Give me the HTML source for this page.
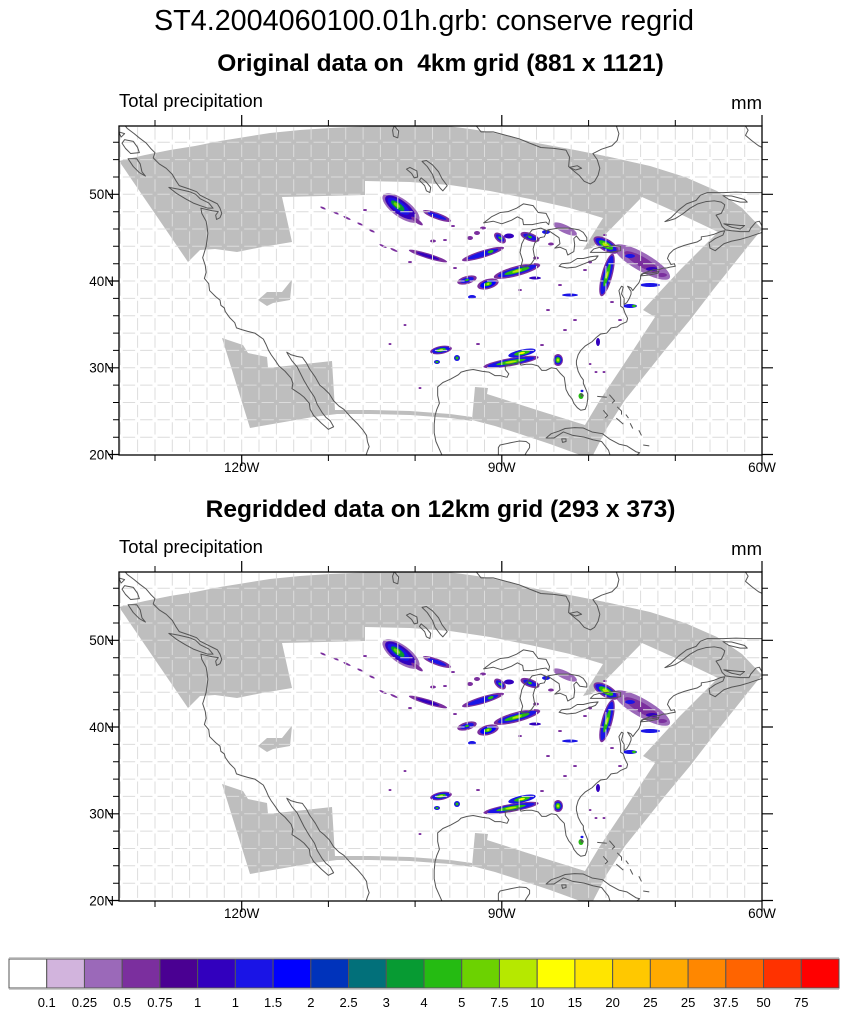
<!DOCTYPE html>
<html><head><meta charset="utf-8"><style>
html,body{margin:0;padding:0;background:#fff;}
svg{display:block;font-family:"Liberation Sans",Arial,Helvetica,sans-serif;}
.cst{fill:none;stroke:#555;stroke-width:1;vector-effect:non-scaling-stroke;stroke-linejoin:round;}
.tl{font-size:13.5px;fill:#000;}
</style></head><body>
<svg width="848" height="1016" viewBox="0 0 848 1016">
<rect width="848" height="1016" fill="#fff"/>
<defs>
<clipPath id="fc" clipPathUnits="userSpaceOnUse"><rect x="119" y="126" width="643" height="329"/></clipPath>
<g id="panel">
<g clip-path="url(#fc)">
<path fill="#BEBEBE" d="M119,161 L145,155 L170,150 L195,146 L220,141 L245,137 L270,133 L300,130 L330,128 L365,126.5 L400,125 L440,125 L470,129 L490,132 L515,138 L537,143 L575,150 L610,157 L650,166 L685,177 L717,191 L742,208 L762,229 L745,250 L713,290 L690,320 L665,350 L645,375 L625,400 L607,428 L593,455 L590,460 L583,456 L550,444 L520,434 L495,426 L472,420 L475,387 L488,388 L487,394 L540,411 L585,425 L600,400 L630,355 L655,317 L643,310 L680,270 L718,232 L680,214 L642,197 L592,248 L583,250 L603,218 L570,208 L530,199 L490,191 L450,185 L410,182 L365,181 L365,195 L282,197 L292,242 L262,247 L237,252 L215,249 L200,250 L188,262 Z"/>
<path fill="#BEBEBE" d="M222,338 L243,345 L248,353 L267,357 L268,368 L332,361 L335,410 L370,410 L410,411 L450,414 L472,417 L472,421 L450,418 L410,415 L370,414 L337,414 L313,417 L250,428 Z"/>
<path fill="#BEBEBE" d="M258,300 L267,292 L282,292 L290,282 L292,280 L290,300 L273,303 L267,306 Z"/>
<g>
<g transform="translate(401,208) rotate(36)">
<ellipse rx="22" ry="9" fill="#9B69B9"/>
<ellipse cx="-1" rx="18" ry="7" fill="#3200BE"/>
<ellipse cx="-3" rx="13" ry="5" fill="#1A14E6"/>
<ellipse cx="-4" rx="8" ry="3" fill="#079B33"/>
<ellipse cx="-5" rx="4" ry="1.6" fill="#6CD201"/>
</g>
<ellipse cx="417" cy="221" rx="7" ry="2" transform="rotate(36 417 221)" fill="#7B2F9E"/>
<g transform="translate(437,216) rotate(20)"><ellipse rx="15" ry="3.2" fill="#7B2F9E"/><ellipse rx="10" ry="1.8" fill="#1A14E6"/></g>
<g fill="#7B2F9E">
<ellipse cx="323" cy="208" rx="3" ry="1" transform="rotate(25 323 208)"/>
<ellipse cx="336" cy="213" rx="3" ry="1" transform="rotate(25 336 213)"/>
<ellipse cx="347" cy="218" rx="4" ry="1" transform="rotate(25 347 218)"/>
<ellipse cx="360" cy="224" rx="3" ry="1" transform="rotate(25 360 224)"/>
<ellipse cx="372" cy="231" rx="3" ry="1" transform="rotate(25 372 231)"/>
<ellipse cx="383" cy="246" rx="4" ry="1" transform="rotate(25 383 246)"/>
<ellipse cx="394" cy="250" rx="4" ry="1" transform="rotate(25 394 250)"/>
<ellipse cx="433" cy="241" rx="3" ry="1.5"/>
<ellipse cx="470" cy="238" rx="3" ry="2"/>
<ellipse cx="477" cy="233" rx="3" ry="2"/>
<ellipse cx="483" cy="228" rx="3" ry="1.5"/>
<ellipse cx="453" cy="226" rx="2" ry="1"/>
<ellipse cx="365" cy="210" rx="2" ry="1"/>
<ellipse cx="445" cy="240" rx="2" ry="1"/>
<ellipse cx="536" cy="258" rx="3" ry="1.5"/>
<ellipse cx="551" cy="244" rx="3" ry="1.5"/>
<ellipse cx="590" cy="262" rx="2" ry="1.5"/>
<ellipse cx="585" cy="270" rx="2" ry="1"/>
<ellipse cx="565" cy="330" rx="2" ry="1"/>
<ellipse cx="575" cy="320" rx="2" ry="1"/>
<ellipse cx="548" cy="310" rx="2" ry="1"/>
<ellipse cx="612" cy="302" rx="2" ry="1"/>
<ellipse cx="390" cy="344" rx="1.5" ry="1"/>
<ellipse cx="405" cy="325" rx="1.5" ry="1"/>
<ellipse cx="420" cy="388" rx="1.5" ry="1"/>
<ellipse cx="596" cy="372" rx="1.5" ry="1"/>
<ellipse cx="604" cy="372" rx="1.5" ry="1"/>
<ellipse cx="410" cy="262" rx="2" ry="1"/>
<ellipse cx="455" cy="268" rx="2" ry="1"/>
<ellipse cx="520" cy="290" rx="2" ry="1"/>
<ellipse cx="560" cy="285" rx="2" ry="1"/>
<ellipse cx="605" cy="235" rx="2" ry="1"/>
<ellipse cx="620" cy="320" rx="2" ry="1"/>
<ellipse cx="478" cy="344" rx="2" ry="1"/>
<ellipse cx="542" cy="345" rx="2" ry="1"/>
<ellipse cx="590" cy="364" rx="1.5" ry="1"/>
</g>
<g transform="translate(428,256) rotate(17)"><ellipse rx="20" ry="2.6" fill="#7B2F9E"/><ellipse rx="12" ry="1.5" fill="#3200BE"/></g>
<g transform="translate(483,254) rotate(-17)"><ellipse rx="22" ry="3.6" fill="#7B2F9E"/><ellipse rx="16" ry="2.5" fill="#1A14E6"/><ellipse cx="8" rx="3" ry="1.5" fill="#25BB12"/></g>
<g transform="translate(467,280) rotate(-15)"><ellipse rx="10" ry="4" fill="#7B2F9E"/><ellipse rx="7" ry="2.5" fill="#1A14E6"/><ellipse rx="2" ry="1" fill="#25BB12"/></g>
<g transform="translate(488,284) rotate(-15)"><ellipse rx="11" ry="5" fill="#7B2F9E"/><ellipse rx="8" ry="3.5" fill="#0000FF"/><ellipse rx="4" ry="2" fill="#25BB12"/><ellipse rx="1.5" ry="1" fill="#B6E800"/></g>
<g transform="translate(517,271) rotate(-15)"><ellipse rx="24" ry="5" fill="#7B2F9E"/><ellipse rx="20" ry="3.5" fill="#1A14E6"/><ellipse rx="13" ry="2" fill="#25BB12"/><ellipse rx="5" ry="1.2" fill="#B6E800"/></g>
<ellipse cx="472" cy="297" rx="4" ry="2" fill="#1A14E6"/>
<g transform="translate(500,238) rotate(40)"><ellipse rx="7" ry="4" fill="#7B2F9E"/><ellipse rx="5" ry="2.5" fill="#1A14E6"/><ellipse rx="2" ry="1" fill="#25BB12"/></g>
<ellipse cx="509" cy="236" rx="5" ry="2.5" fill="#3200BE"/>
<g transform="translate(530,237) rotate(20)"><ellipse rx="10" ry="4" fill="#7B2F9E"/><ellipse rx="7" ry="2.5" fill="#1A14E6"/><ellipse rx="2" ry="1.2" fill="#25BB12"/></g>
<ellipse cx="546" cy="232" rx="4" ry="2" fill="#1A14E6"/>
<ellipse cx="565" cy="229" rx="13" ry="4" transform="rotate(25 565 229)" fill="#9B69B9"/>
<ellipse cx="535" cy="278" rx="6" ry="1.5" fill="#3200BE"/>
<ellipse cx="570" cy="295" rx="8" ry="1.5" fill="#1A14E6"/>
<g transform="translate(642,262) rotate(30)"><ellipse rx="32" ry="9" fill="#9B69B9"/><ellipse rx="20" ry="5" fill="#7B2F9E"/></g>
<ellipse cx="630" cy="256" rx="5" ry="2" fill="#1A14E6"/>
<ellipse cx="652" cy="269" rx="6" ry="2" fill="#3200BE"/>
<ellipse cx="662" cy="275" rx="5" ry="2" fill="#7B2F9E"/>
<g transform="translate(606,245) rotate(30)"><ellipse rx="14" ry="6" fill="#7B2F9E"/><ellipse rx="12" ry="4.5" fill="#1A14E6"/><ellipse rx="8" ry="3" fill="#25BB12"/><ellipse rx="4" ry="1.8" fill="#B6E800"/></g>
<g transform="translate(607,275) rotate(105)"><ellipse rx="22" ry="5.5" fill="#7B2F9E"/><ellipse rx="20" ry="4" fill="#1A14E6"/><ellipse rx="12" ry="2" fill="#25BB12"/><ellipse rx="4" ry="1" fill="#B6E800"/></g>
<ellipse cx="650" cy="285" rx="10" ry="2" fill="#1A14E6"/>
<g transform="translate(630,306)"><ellipse rx="7" ry="2" fill="#1A14E6"/><ellipse cx="4" rx="2" ry="1.2" fill="#25BB12"/></g>
<g transform="translate(441,350) rotate(-10)"><ellipse rx="11" ry="4" fill="#7B2F9E"/><ellipse rx="9" ry="3" fill="#1A14E6"/><ellipse rx="5" ry="1.8" fill="#25BB12"/><ellipse rx="2" ry="1" fill="#B6E800"/></g>
<g transform="translate(437,362)"><ellipse rx="3" ry="2" fill="#1A14E6"/><ellipse rx="1.5" ry="1" fill="#25BB12"/></g>
<g transform="translate(457,358)"><ellipse rx="3" ry="3" fill="#1A14E6"/><ellipse rx="1.5" ry="1.5" fill="#25BB12"/></g>
<g transform="translate(511,362) rotate(-10)"><ellipse rx="28" ry="4" fill="#7B2F9E"/><ellipse rx="24" ry="3" fill="#1A14E6"/><ellipse rx="15" ry="1.8" fill="#25BB12"/><ellipse rx="6" ry="1" fill="#B6E800"/></g>
<g transform="translate(522,353) rotate(-12)"><ellipse rx="14" ry="3.5" fill="#1A14E6"/><ellipse rx="8" ry="2" fill="#25BB12"/><ellipse rx="3" ry="1" fill="#FFFF00"/></g>
<g transform="translate(558,360)"><ellipse rx="5" ry="6" fill="#7B2F9E"/><ellipse rx="4" ry="4.5" fill="#1A14E6"/><ellipse rx="2.5" ry="3" fill="#25BB12"/><ellipse rx="1.2" ry="1.5" fill="#B6E800"/></g>
<ellipse cx="598" cy="342" rx="2" ry="4" fill="#3200BE"/>
<ellipse cx="581" cy="396" rx="2.5" ry="3" fill="#25BB12"/>
<ellipse cx="582" cy="391" rx="1.5" ry="1.2" fill="#1A14E6"/>
</g>
<path fill="none" stroke="#DCDCDC" stroke-width="1" stroke-dasharray="12.35 5" d="M120.3,451.9V126M137.6,451.9V126M155,451.9V126M172.3,451.9V126M189.6,451.9V126M207,451.9V126M224.3,451.9V126M241.7,451.9V126M259,451.9V126M276.4,451.9V126M293.7,451.9V126M311.1,451.9V126M328.4,451.9V126M345.7,451.9V126M363.1,451.9V126M380.4,451.9V126M397.8,451.9V126M415.1,451.9V126M432.5,451.9V126M449.8,451.9V126M467.2,451.9V126M484.5,451.9V126M501.8,451.9V126M519.2,451.9V126M536.5,451.9V126M553.9,451.9V126M571.2,451.9V126M588.6,451.9V126M605.9,451.9V126M623.3,451.9V126M640.6,451.9V126M657.9,451.9V126M675.3,451.9V126M692.6,451.9V126M710,451.9V126M727.3,451.9V126M744.7,451.9V126"/>
<path fill="none" stroke="#DCDCDC" stroke-width="1" stroke-dasharray="12.34 5" d="M122.8,437.2H762M122.8,419.8H762M122.8,402.5H762M122.8,385.1H762M122.8,367.8H762M122.8,350.4H762M122.8,333.1H762M122.8,315.7H762M122.8,298.4H762M122.8,281H762M122.8,263.7H762M122.8,246.3H762M122.8,229H762M122.8,211.7H762M122.8,194.3H762M122.8,177H762M122.8,159.6H762M122.8,142.3H762"/>
<g transform="matrix(8.672 0 0 -8.673 1282.32 627.96)">
<polyline class="cst" points="-133.9,58.5 -133.2,57.6 -132.4,57.0 -131.8,56.5 -131.0,55.9 -130.5,55.3 -130.0,54.8 -130.2,54.2 -129.5,53.5 -128.7,53.0 -128.0,52.3 -127.6,51.6 -127.2,51.0 -126.0,50.6 -125.2,50.3 -124.8,49.9 -124.0,49.5 -123.2,49.1 -122.8,48.9 -122.5,48.4 -122.3,47.8 -122.5,47.3 -122.9,47.1 -123.0,47.6 -122.7,48.0 -123.4,48.1 -124.7,48.4 -124.6,47.8 -124.1,46.9 -124.0,46.3 -123.9,45.5 -124.0,44.7 -124.1,44.0 -124.4,43.0 -124.5,42.7 -124.2,41.8 -124.1,41.0 -124.3,40.3 -123.8,39.7 -123.7,38.9 -123.0,38.2 -122.5,37.8 -122.4,37.2 -122.0,36.9 -121.9,36.5 -121.4,35.8 -120.8,35.2 -120.6,34.6 -120.0,34.4 -119.3,34.2 -118.5,34.0 -118.2,33.8 -117.5,33.3 -117.2,32.7 -116.9,32.0 -116.6,31.5 -116.1,30.8 -115.7,30.2 -115.0,29.6 -114.3,28.8 -114.1,28.2 -114.2,27.6 -113.3,27.0 -112.8,26.6 -112.2,25.9 -112.1,25.2 -111.7,24.5 -110.8,23.6 -110.0,22.9 -109.4,23.2 -109.8,23.9 -110.3,24.3 -110.7,24.8 -111.3,25.8 -111.6,26.6 -112.2,27.5 -112.8,28.5 -113.2,29.3 -113.6,30.1 -114.2,30.8 -114.7,31.6 -114.8,31.8 -114.3,31.5 -113.6,31.3 -113.0,31.2 -112.5,30.5 -112.2,29.9 -111.5,28.9 -111.0,28.0 -110.5,27.6 -109.9,27.0 -109.4,26.2 -108.8,25.6 -108.2,25.2 -107.5,24.4 -106.6,23.5 -106.0,22.8 -105.6,22.2 -105.5,21.5 -105.3,20.9 -105.5,20.4 -105.7,19.8"/>
<polyline class="cst" points="-96.8,19.7 -97.2,20.6 -97.6,21.5 -97.8,22.5 -97.8,23.5 -97.7,24.5 -97.5,25.2 -97.2,25.9 -97.4,26.8 -97.4,27.8 -96.8,28.3 -95.9,28.7 -95.0,29.2 -94.7,29.5 -94.0,29.7 -93.3,29.8 -92.3,29.6 -91.5,29.5 -90.8,29.1 -90.2,29.1 -89.4,28.9 -89.2,29.3 -89.6,29.8 -89.6,30.2 -89.0,30.4 -88.4,30.4 -88.0,30.7 -87.8,30.3 -87.2,30.4 -86.5,30.4 -85.8,30.2 -85.4,29.7 -84.9,29.7 -84.3,30.0 -83.7,29.9 -83.3,29.4 -82.8,28.9 -82.7,28.2 -82.6,27.5 -82.3,26.9 -81.9,26.4 -81.7,25.9 -81.3,25.4 -80.9,25.1 -80.4,25.2 -80.2,25.7 -80.1,26.4 -80.1,27.0 -80.3,27.5 -80.6,28.2 -80.6,28.6 -80.9,29.0 -81.2,29.6 -81.4,30.4 -81.4,30.8 -81.2,31.5 -80.9,32.0 -80.4,32.5 -79.6,33.0 -79.1,33.5 -78.6,33.9 -77.9,34.0 -77.4,34.6 -76.7,34.7 -76.3,35.0 -75.6,35.3 -75.5,35.7 -75.8,36.3 -76.0,36.9 -76.3,37.1 -76.3,38.0 -76.5,38.9 -76.2,39.4 -76.0,39.3 -76.2,38.5 -75.9,38.0 -75.9,37.3 -75.6,37.5 -75.3,38.0 -75.1,38.5 -75.1,38.8 -75.5,39.4 -75.1,39.2 -74.9,38.9 -74.6,39.3 -74.2,39.8 -74.0,40.3 -74.0,40.6 -73.9,40.8 -73.4,41.0 -72.5,41.3 -71.9,41.3 -71.4,41.5 -71.0,41.5 -70.6,41.6 -70.0,41.7 -70.1,42.0 -70.5,41.9 -70.7,42.3 -70.9,42.6 -70.7,43.1 -70.2,43.6 -69.8,43.8 -69.0,44.1 -68.3,44.3 -67.5,44.5 -67.0,44.8 -67.0,45.1 -66.3,45.2 -65.5,45.4 -64.8,45.7 -64.3,45.8 -64.5,45.3 -65.4,44.9 -66.1,44.4 -66.0,43.8 -65.4,43.5 -64.4,44.3 -63.5,44.6 -62.5,44.8 -61.5,45.1 -60.9,45.3 -60.0,45.6 -59.8,46.0 -60.3,46.9 -60.7,46.8 -61.3,46.1 -61.5,45.7 -62.5,45.7 -63.5,45.8 -64.2,45.9 -64.6,46.3 -64.9,47.0 -65.3,47.6 -64.7,47.8 -64.4,48.4 -64.3,48.8 -64.7,49.1 -65.5,49.25 -66.5,49.15 -67.4,48.9 -68.3,48.4 -69.2,47.7 -70.0,47.2 -70.8,46.95 -71.2,46.85 -70.5,47.3 -69.6,48.2 -68.7,48.9 -67.6,49.3 -67.1,49.9 -66.3,50.2 -64.5,50.2 -63.0,50.25 -61.5,50.2 -60.0,50.2 -59.5,50.5"/>
<polyline class="cst" points="-62.0,58.0 -61.6,57.4 -61.9,56.8 -61.2,56.2 -60.4,55.6 -59.5,55.2"/>
<polyline class="cst" points="-93.2,58.2 -92.4,57.2 -91.0,57.2 -89.5,56.8 -88.0,56.4 -86.8,55.9 -85.5,55.4 -84.0,55.3 -82.6,55.1 -82.2,54.3 -82.3,53.2 -81.6,52.6 -81.1,52.2 -80.5,51.5 -79.8,51.2 -79.3,51.5 -78.9,52.2 -78.7,53.0 -79.0,54.0 -79.5,54.7 -78.5,55.2 -77.3,55.6 -76.7,56.2 -76.5,57.0 -76.9,58.2"/>
<polygon class="cst" points="-92.1,46.7 -91.0,46.9 -90.0,46.6 -88.9,47.0 -88.2,47.4 -87.6,47.1 -87.5,46.5 -86.5,46.5 -85.6,46.7 -84.9,46.8 -84.6,46.5 -84.5,47.0 -84.9,47.8 -85.8,47.9 -86.4,48.7 -87.5,48.9 -88.3,48.4 -89.3,48.0 -90.2,47.9 -91.2,47.4"/>
<polygon class="cst" points="-87.8,41.7 -87.6,42.4 -87.9,43.3 -87.7,44.3 -87.4,44.9 -86.9,45.4 -86.5,45.9 -85.5,46.1 -84.8,45.8 -85.1,45.1 -85.6,45.0 -86.2,44.4 -86.4,43.7 -86.2,42.6 -86.6,42.0 -87.2,41.6"/>
<polygon class="cst" points="-84.7,45.9 -83.5,46.1 -82.2,46.1 -81.1,45.9 -80.6,45.6 -80.2,45.0 -80.2,44.6 -81.0,44.7 -81.4,45.2 -81.7,44.9 -81.6,44.2 -81.7,43.4 -82.4,43.0 -82.6,43.6 -83.3,43.9 -83.9,43.8 -83.3,44.3 -83.4,45.0 -84.3,45.6"/>
<polygon class="cst" points="-83.4,41.7 -82.5,41.5 -81.5,41.6 -80.5,42.0 -79.2,42.5 -78.9,42.9 -79.8,42.8 -80.6,42.6 -81.3,42.6 -82.1,42.1 -83.1,42.0"/>
<polygon class="cst" points="-79.8,43.3 -79.0,43.3 -77.6,43.3 -76.3,43.5 -76.3,44.0 -77.0,44.1 -77.8,44.0 -78.7,43.9 -79.4,43.7"/>
<polygon class="cst" points="-96.8,50.4 -96.3,51.0 -96.9,51.8 -97.3,52.6 -98.0,53.4 -98.7,53.9 -99.2,53.8 -98.6,53.2 -98.0,52.3 -97.7,51.5 -97.1,50.7"/>
<polygon class="cst" points="-100.6,53.1 -99.8,52.7 -99.7,52.0 -100.1,51.9 -100.4,52.4 -101.0,52.9"/>
<polygon class="cst" points="-99.3,51.9 -98.7,51.4 -98.2,50.8 -98.3,50.2 -98.7,50.4 -98.9,51.0 -99.5,51.6"/>
<polygon class="cst" points="-102.4,57.9 -101.9,57.3 -102.0,56.5 -102.5,56.7 -102.6,57.4"/>
<polygon class="cst" points="-128.4,50.8 -127.3,50.6 -126.0,50.3 -125.3,50.0 -124.8,49.5 -123.8,49.0 -123.3,48.4 -123.9,48.4 -124.8,48.7 -125.6,49.0 -126.5,49.5 -127.5,50.1"/>
<polygon class="cst" points="-133.1,54.1 -132.1,54.1 -131.7,53.5 -131.5,52.6 -131.1,52.1 -131.8,52.5 -132.5,53.2"/>
<polygon class="cst" points="-133.5,56.3 -132.5,56.1 -132.0,55.4 -131.8,54.8 -132.8,54.7 -133.4,55.3 -133.8,55.9"/>
<polygon class="cst" points="-134.2,57.2 -133.5,57.0 -133.9,56.6"/>
<polygon class="cst" points="-82.2,53.1 -81.3,53.3 -80.8,53.0 -81.5,52.8"/>
<polygon class="cst" points="-64.5,49.85 -63.5,49.8 -62.0,49.4 -61.7,49.1 -62.5,49.1 -63.8,49.4"/>
<polygon class="cst" points="-64.4,46.6 -63.5,46.5 -62.5,46.4 -62.0,46.4 -62.5,46.0 -63.5,46.2"/>
<polygon class="cst" points="-74.0,40.6 -73.0,40.7 -72.0,40.9 -71.9,41.1 -72.7,40.95 -73.7,40.85"/>
<polygon class="cst" points="-84.9,21.9 -84.3,22.4 -83.4,22.7 -82.7,23.0 -81.6,23.1 -80.6,23.05 -79.6,22.6 -78.4,22.4 -77.6,21.8 -76.5,21.2 -75.6,21.0 -74.5,20.3 -74.1,20.2 -74.5,19.9 -75.8,19.9 -77.5,19.85 -77.7,20.5 -78.5,21.5 -79.5,21.7 -80.5,22.0 -81.8,22.2 -82.9,22.6 -84.0,21.9"/>
<polygon class="cst" points="-83.1,21.8 -82.6,21.8 -82.6,21.5 -83.0,21.4"/>
<polyline class="cst" points="-90.4,19.8 -90.4,20.8 -90.2,21.1 -89.0,21.35 -88.0,21.55 -87.2,21.5 -86.8,21.2 -86.8,20.8 -87.2,20.2 -87.4,19.8"/>
<polygon class="cst" points="-80.9,27.0 -80.7,26.95 -80.6,26.8 -80.8,26.7"/>
<polyline class="cst" points="-79.0,26.7 -77.9,26.6"/>
<polyline class="cst" points="-77.6,26.9 -77.0,26.2 -77.3,25.9"/>
<polyline class="cst" points="-78.3,25.1 -77.8,24.5 -78.1,24.2"/>
<polyline class="cst" points="-76.7,25.5 -76.2,25.0 -76.2,24.6"/>
<polyline class="cst" points="-75.7,24.6 -75.4,24.2"/>
<polyline class="cst" points="-76.8,24.2 -76.0,23.5"/>
<polyline class="cst" points="-75.2,23.6 -74.9,23.0"/>
<polyline class="cst" points="-74.2,22.8 -73.9,22.2"/>
<polyline class="cst" points="-73.7,21.1 -73.0,21.0"/>
</g>
</g>
<rect x="119" y="126" width="643" height="329" fill="none" stroke="#000" stroke-width="1.3"/>
<path fill="none" stroke="#000" stroke-width="1.2" d="M108,454.5H119M108,367.8H119M108,281H119M108,194.3H119M762,454.5H773M762,367.8H773M762,281H773M762,194.3H773M241.7,455V466M501.8,455V466M762,455V466M241.7,126V115M501.8,126V115M762,126V115"/>
<path fill="none" stroke="#000" stroke-width="1" d="M113,437.2H119M113,419.8H119M113,402.5H119M113,385.1H119M113,350.4H119M113,333.1H119M113,315.7H119M113,298.4H119M113,263.7H119M113,246.3H119M113,229H119M113,211.7H119M113,177H119M113,159.6H119M113,142.3H119M762,437.2H768M762,419.8H768M762,402.5H768M762,385.1H768M762,350.4H768M762,333.1H768M762,315.7H768M762,298.4H768M762,263.7H768M762,246.3H768M762,229H768M762,211.7H768M762,177H768M762,159.6H768M762,142.3H768M155,455V461M328.4,455V461M415.1,455V461M588.6,455V461M675.3,455V461M155,126V120M328.4,126V120M415.1,126V120M588.6,126V120M675.3,126V120"/>
<g class="tl" text-anchor="end">
<text x="114" y="199">50N</text>
<text x="114" y="286">40N</text>
<text x="114" y="372.5">30N</text>
<text x="114" y="459.5">20N</text>
</g>
<g class="tl" text-anchor="middle">
<text x="241.7" y="472">120W</text>
<text x="501.8" y="472">90W</text>
<text x="762" y="472">60W</text>
</g>
<text x="119" y="107" font-size="18.5">Total precipitation</text>
<text x="762" y="109" font-size="18.5" text-anchor="end">mm</text>
</g>
</defs>

<text x="424" y="30" text-anchor="middle" font-size="28.5" textLength="540" lengthAdjust="spacingAndGlyphs">ST4.2004060100.01h.grb: conserve regrid</text>
<text x="440.5" y="71" text-anchor="middle" font-size="24.5" font-weight="bold">Original data on&#160; 4km grid (881 x 1121)</text>
<text x="440.5" y="517" text-anchor="middle" font-size="24.5" font-weight="bold">Regridded data on 12km grid (293 x 373)</text>

<use href="#panel"/>
<use href="#panel" transform="translate(0,446)"/>

<line x1="9" y1="957.5" x2="839" y2="957.5" stroke="#ccc" stroke-width="1"/>
<line x1="9" y1="989.5" x2="839" y2="989.5" stroke="#ccc" stroke-width="1"/>
<g stroke="#555" stroke-width="1">
<rect x="9" y="959" width="37.73" height="29" fill="#FFFFFF"/>
<rect x="46.73" y="959" width="37.73" height="29" fill="#D2B4DD"/>
<rect x="84.45" y="959" width="37.73" height="29" fill="#9B69B9"/>
<rect x="122.18" y="959" width="37.73" height="29" fill="#7B2F9E"/>
<rect x="159.91" y="959" width="37.73" height="29" fill="#4A0092"/>
<rect x="197.64" y="959" width="37.73" height="29" fill="#3200BE"/>
<rect x="235.36" y="959" width="37.73" height="29" fill="#1A14E6"/>
<rect x="273.09" y="959" width="37.73" height="29" fill="#0000FF"/>
<rect x="310.82" y="959" width="37.73" height="29" fill="#0033BB"/>
<rect x="348.55" y="959" width="37.73" height="29" fill="#02707A"/>
<rect x="386.27" y="959" width="37.73" height="29" fill="#079B33"/>
<rect x="424" y="959" width="37.73" height="29" fill="#25BB12"/>
<rect x="461.73" y="959" width="37.73" height="29" fill="#6CD201"/>
<rect x="499.45" y="959" width="37.73" height="29" fill="#B6E800"/>
<rect x="537.18" y="959" width="37.73" height="29" fill="#FFFF00"/>
<rect x="574.91" y="959" width="37.73" height="29" fill="#FFE500"/>
<rect x="612.64" y="959" width="37.73" height="29" fill="#FFC800"/>
<rect x="650.36" y="959" width="37.73" height="29" fill="#FFAA00"/>
<rect x="688.09" y="959" width="37.73" height="29" fill="#FF8700"/>
<rect x="725.82" y="959" width="37.73" height="29" fill="#FF6400"/>
<rect x="763.55" y="959" width="37.73" height="29" fill="#FF3200"/>
<rect x="801.27" y="959" width="37.73" height="29" fill="#FF0000"/>
</g>
<g font-size="13" text-anchor="middle" fill="#000">
<text x="46.73" y="1007">0.1</text>
<text x="84.45" y="1007">0.25</text>
<text x="122.18" y="1007">0.5</text>
<text x="159.91" y="1007">0.75</text>
<text x="197.64" y="1007">1</text>
<text x="235.36" y="1007">1</text>
<text x="273.09" y="1007">1.5</text>
<text x="310.82" y="1007">2</text>
<text x="348.55" y="1007">2.5</text>
<text x="386.27" y="1007">3</text>
<text x="424" y="1007">4</text>
<text x="461.73" y="1007">5</text>
<text x="499.45" y="1007">7.5</text>
<text x="537.18" y="1007">10</text>
<text x="574.91" y="1007">15</text>
<text x="612.64" y="1007">20</text>
<text x="650.36" y="1007">25</text>
<text x="688.09" y="1007">25</text>
<text x="725.82" y="1007">37.5</text>
<text x="763.55" y="1007">50</text>
<text x="801.27" y="1007">75</text>
</g>
</svg>
</body></html>
